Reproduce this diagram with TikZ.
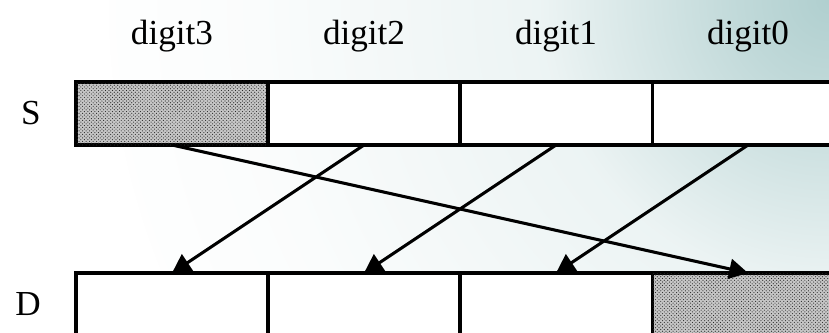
\documentclass[tikz,border=0pt]{standalone}
\usepackage{fontspec}
\setmainfont{Liberation Serif}
\usepackage{tikz}
\usetikzlibrary{positioning, arrows.meta, patterns}
\definecolor{bgteal}{RGB}{176, 207, 207}
\colorlet{bgnear}{bgteal!80!white}
\colorlet{bgmid}{bgteal!24!white}
\colorlet{bgfar}{bgteal!6!white}
\definecolor{dotgray}{RGB}{40, 40, 40}
\pgfdeclareradialshading{cornerglow}{\pgfpoint{0bp}{0bp}}{%
    color(0bp)=(bgteal); color(3bp)=(bgnear); color(10bp)=(bgmid);
    color(20bp)=(bgfar); color(27bp)=(white); color(50bp)=(white)}

\begin{document}
\begin{tikzpicture}[
    x=0.03cm, y=-0.03cm,
    cell/.style={rectangle, draw=black, line width=2.6pt, fill=white,
        minimum width=5.76cm, minimum height=1.89cm, inner sep=0pt, outer sep=0pt},
    moved/.style={cell, fill=gray!45, postaction={pattern=crosshatch dots, pattern color=dotgray}},
    lbl/.style={font=\fontsize{30}{36}\selectfont, inner sep=0pt},
    arrow/.style={-{Triangle[length=16pt, width=17pt]}, line width=2.6pt}
]
    \useasboundingbox (0,0) rectangle (829,333);

    \begin{scope}
    \clip (0,0) rectangle (829,333);
    \fill[white] (0,0) rectangle (829,333);
    \shade[shading=cornerglow] (829,0) circle (720);

    % Source and destination rows
    \node[moved] (s3) at (172,113.5) {};
    \node[cell, right=0pt of s3] (s2) {};
    \node[cell, right=0pt of s2] (s1) {};
    \node[cell, right=0pt of s1] (s0) {};

    \node[cell] (d3) at (172,304.5) {};
    \node[cell, right=0pt of d3] (d2) {};
    \node[cell, right=0pt of d2] (d1) {};
    \node[moved, right=0pt of d1] (d0) {};

    % Labels
    \foreach \i in {3,2,1,0} {
        \node[lbl, above=0.9cm of s\i] (t\i) {digit\i};
    }
    \node[lbl, left=1.05cm of s3] (srow) {S};
    \node[lbl, left=1.05cm of d3] (drow) {D};

    % Moves
    \draw[arrow] (s3.south) -- (d0.north);
    \draw[arrow] (s2.south) -- (d3.north);
    \draw[arrow] (s1.south) -- (d2.north);
    \draw[arrow] (s0.south) -- (d1.north);
    \end{scope}
\end{tikzpicture}
\end{document}
